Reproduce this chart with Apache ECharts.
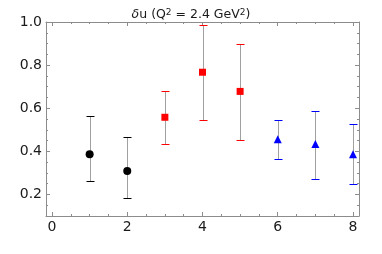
<!DOCTYPE html>
<html><head><meta charset="utf-8">
<script src="https://cdn.jsdelivr.net/npm/echarts@6/dist/echarts.min.js"></script>
<style>html,body{margin:0;padding:0;background:#fff}#c{width:382px;height:254px}</style>
</head><body><div id="c"></div>
<script>
// Data
var xs     = [1, 2, 3, 4, 5, 6, 7, 8];
var groups = [0, 0, 1, 1, 1, 2, 2, 2];        // 0 black circle, 1 red square, 2 blue triangle
var values = [0.386, 0.309, 0.558, 0.767, 0.678, 0.456, 0.434, 0.386];
var uppers = [0.566, 0.467, 0.678, 0.987, 0.898, 0.547, 0.586, 0.526];
var lowers = [0.264, 0.184, 0.436, 0.546, 0.454, 0.364, 0.273, 0.247];
var xTickLabels = [0, 2, 4, 6, 8];
var xMinorTicks = [0, 0.5, 1, 1.5, 2, 2.5, 3, 3.5, 4, 4.5, 5, 5.5, 6, 6.5, 7, 7.5, 8];
var yTickLabels = [0.2, 0.4, 0.6, 0.8, 1.0];
var yMinorTicks = [0.1, 0.15, 0.2, 0.25, 0.3, 0.35, 0.4, 0.45, 0.5, 0.55, 0.6, 0.65, 0.7, 0.75, 0.8, 0.85, 0.9, 0.95, 1.0];

var groupColors = ['#000000', '#ff0000', '#0000ff'];
var groupSymbols = ['circle', 'rect', 'triangle'];
var frameColor = '#8c8c8c';
var XMIN = -0.16, XMAX = 8.16, YMIN = 0.1, YMAX = 1.0;

function ax(dim, grid, pos, vals, len, line, lab) {
  var o = {
    type: 'value', gridIndex: grid, position: pos,
    min: dim === 'x' ? XMIN : YMIN, max: dim === 'x' ? XMAX : YMAX,
    axisLine: {show: line, onZero: false, lineStyle: {color: frameColor}},
    axisTick: {show: true, inside: true, length: len, customValues: vals, lineStyle: {color: frameColor}},
    axisLabel: {show: lab, customValues: vals, margin: 4, color: '#1a1a1a', fontSize: 14, fontFamily: 'DejaVu Sans'},
    splitLine: {show: false}
  };
  if (dim === 'y') o.axisLabel.formatter = function (v) { return Number(v).toFixed(1); };
  return o;
}

var errData = xs.map(function (x, i) { return [x, lowers[i], uppers[i], groups[i]]; });

var scatterSeries = [0, 1, 2].map(function (g) {
  var d = [];
  xs.forEach(function (x, i) { if (groups[i] === g) d.push([x, values[i]]); });
  return {
    type: 'scatter', xAxisIndex: 0, yAxisIndex: 0, data: d,
    symbol: groupSymbols[g], symbolSize: g === 1 ? 7 : 8,
    itemStyle: {color: groupColors[g], opacity: 1}, z: 5, silent: true
  };
});

var chart = echarts.init(document.getElementById('c'));
chart.setOption({
  animation: false,
  backgroundColor: '#ffffff',
  title: {
    text: '{i|δ}u (Q{s|2} = 2.4 GeV{s|2})',
    left: 'center', top: 3,
    textStyle: {
      fontSize: 12.5, fontWeight: 'normal', color: '#1a1a1a', fontFamily: 'DejaVu Sans',
      rich: {
        i: {fontStyle: 'italic', fontSize: 12.5, fontFamily: 'DejaVu Sans', color: '#1a1a1a'},
        s: {fontSize: 9, fontFamily: 'DejaVu Sans', color: '#1a1a1a', verticalAlign: 'top', lineHeight: 8, padding: [0, 0, 6, 0]}
      }
    }
  },
  grid: [
    {left: 46, right: 23, top: 22, bottom: 38},
    {left: 46, right: 23, top: 22, bottom: 38}
  ],
  xAxis: [
    ax('x', 0, 'bottom', xTickLabels, 4, true, true),
    ax('x', 0, 'top', xTickLabels, 4, true, false),
    ax('x', 1, 'bottom', xMinorTicks, 2, false, false),
    ax('x', 1, 'top', xMinorTicks, 2, false, false)
  ],
  yAxis: [
    ax('y', 0, 'left', yTickLabels, 4, true, true),
    ax('y', 0, 'right', yTickLabels, 4, true, false),
    ax('y', 1, 'left', yMinorTicks, 2, false, false),
    ax('y', 1, 'right', yMinorTicks, 2, false, false)
  ],
  series: [{
    type: 'custom', xAxisIndex: 0, yAxisIndex: 0, data: errData, z: 2, silent: true,
    renderItem: function (params, api) {
      var x = api.value(0), lo = api.value(1), hi = api.value(2), g = api.value(3);
      var pLo = api.coord([x, lo]), pHi = api.coord([x, hi]);
      var cx = Math.round(pLo[0]) + 0.5;
      var yLo = Math.round(pLo[1]) + 0.5, yHi = Math.round(pHi[1]) + 0.5;
      var c = groupColors[g];
      return {type: 'group', children: [
        {type: 'line', shape: {x1: cx, y1: yLo, x2: cx, y2: yHi}, style: {stroke: '#a0a0a0', lineWidth: 1}},
        {type: 'line', shape: {x1: cx - 4, y1: yLo, x2: cx + 4, y2: yLo}, style: {stroke: c, lineWidth: 1}},
        {type: 'line', shape: {x1: cx - 4, y1: yHi, x2: cx + 4, y2: yHi}, style: {stroke: c, lineWidth: 1}}
      ]};
    }
  }].concat(scatterSeries)
});
</script></body></html>
